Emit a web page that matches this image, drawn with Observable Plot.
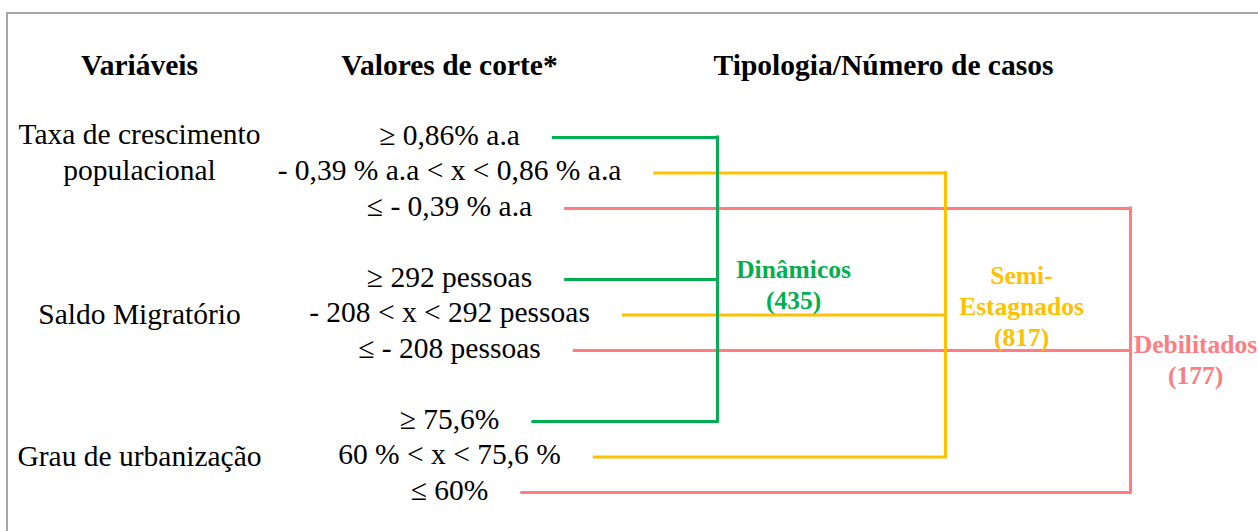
<!DOCTYPE html>
<html>
<head>
<meta charset="utf-8">
<script src="https://cdn.jsdelivr.net/npm/d3@7"></script>
<script src="https://cdn.jsdelivr.net/npm/@observablehq/plot@0.6"></script>
<style>
  html, body { margin: 0; padding: 0; background: #fff; }
  #wrap { position: relative; width: 1258px; height: 531px; overflow: hidden; }
  #frame { position: absolute; left: 6px; top: 12px; right: -10px; bottom: -10px;
           border-top: 2px solid #a6a6a6; border-left: 2px solid #a6a6a6; }
  #wrap svg { position: absolute; left: 0; top: 0; }
</style>
</head>
<body>
<div id="wrap"><div id="frame"></div></div>
<script>
// ---- data ----
const headers = ["Variáveis", "Valores de corte*", "Tipologia/Número de casos"];
const variables = ["Taxa de crescimento\npopulacional", "Saldo Migratório", "Grau de urbanização"];
const cutsTaxa = ["≥ 0,86% a.a", "- 0,39 % a.a < x < 0,86 % a.a", "≤ - 0,39 % a.a"];
const cutsSaldo = ["≥ 292 pessoas", "- 208 < x < 292 pessoas", "≤ - 208 pessoas"];
const cutsGrau = ["≥ 75,6%", "60 % < x < 75,6 %", "≤ 60%"];
const types = ["Dinâmicos", "Semi-\nEstagnados", "Debilitados"];
const counts = [435, 817, 177];
const typeColors = ["#00b050", "#ffc000", "#ff7c80"];

// ---- layout ----
const W = 1258, H = 531;
const FONT = "Liberation Serif";
const BODY_SIZE = 29.5, LABEL_SIZE = 25.5;
const colX = [139, 449, 883];          // column centres for variables / values / typology header
const branchX = [717, 945, 1130];      // vertical connector per type
const labelOffset = [76, 76, 65];
const labelShift = [0.12, -0.28, 0.22];
const gap = 34;

const cuts = [cutsTaxa, cutsSaldo, cutsGrau];
const ctx = document.createElement("canvas").getContext("2d");
ctx.font = `${BODY_SIZE}px "${FONT}"`;
const measure = s => ctx.measureText(s).width;

const valueRows = [];
const segments = [];
cuts.forEach((group, i) => group.forEach((label, k) => {
  const slot = 2 + 4 * i + k;
  valueRows.push({label, slot});
  segments.push({type: types[k], slot, x1: colX[1] + measure(label) / 2 + gap, x2: branchX[k]});
}));
const varRows = variables.map((v, i) => ({label: v, slot: 2 + 4 * i + (v.includes("\n") ? 0.42 : 1)}));
const headerRows = headers.map((h, j) => ({label: h, x: colX[j], slot: 0}));
const branches = types.map((t, k) => ({type: t, x: branchX[k], y1: 2 + k, y2: 10 + k,
  label: `${t}\n(${counts[k]})`, lx: branchX[k] + labelOffset[k], ly: 6 + k + labelShift[k]}));

const chart = Plot.plot({
  width: W, height: H,
  marginTop: 66, marginBottom: 39, marginLeft: 0, marginRight: 0,
  x: {domain: [0, W], range: [0, W], axis: null},
  y: {domain: [0, 12], reverse: true, axis: null},
  color: {domain: types, range: typeColors},
  style: {background: "transparent", overflow: "visible"},
  marks: [
    Plot.ruleY(segments, {y: "slot", x1: "x1", x2: "x2", stroke: "type", strokeWidth: 3, strokeLinecap: "square"}),
    Plot.ruleX(branches, {x: "x", y1: "y1", y2: "y2", stroke: "type", strokeWidth: 3, strokeLinecap: "square"}),
    Plot.text(headerRows, {x: "x", y: "slot", dy: -1, text: "label", fontFamily: FONT, fontSize: BODY_SIZE, fontWeight: "bold", fill: "#000"}),
    Plot.text(varRows, {x: () => colX[0], y: "slot", dy: -2, text: "label", fontFamily: FONT, fontSize: BODY_SIZE, lineHeight: 1.21, fill: "#000"}),
    Plot.text(valueRows, {x: () => colX[1], y: "slot", dy: -2, text: "label", fontFamily: FONT, fontSize: BODY_SIZE, fill: "#000"}),
    Plot.text(branches, {x: "lx", y: "ly", text: "label", fill: "type", fontFamily: FONT, fontSize: LABEL_SIZE, fontWeight: "bold", lineHeight: 1.22})
  ]
});
chart.setAttribute("font-family", FONT);
document.getElementById("wrap").appendChild(chart);
</script>
</body>
</html>
